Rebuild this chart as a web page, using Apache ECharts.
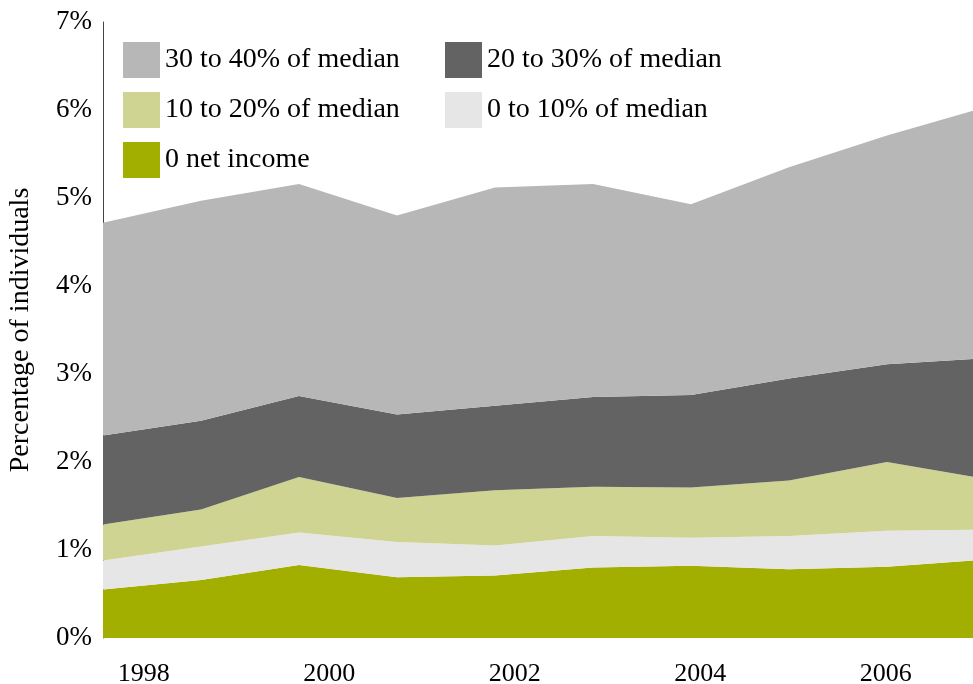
<!DOCTYPE html>
<html>
<head>
<meta charset="utf-8">
<script src="https://cdn.jsdelivr.net/npm/echarts@6/dist/echarts.min.js"></script>
<style>html,body{margin:0;padding:0;background:#fff}#c{width:973px;height:684px}</style>
</head>
<body>
<div id="c"></div>
<script>
// data points, positioned in year units of the labelled axis
const pointYears = ['1997.56', '1998.61', '1999.67', '2000.73', '2001.78', '2002.84', '2003.90', '2004.95', '2006.01', '2007.07'];
const yearTicks = [1998, 2000, 2002, 2004, 2006];
const yTicks = [0, 1, 2, 3, 4, 5, 6, 7];
// band values (% of individuals), bottom to top
const netZero   = [0.55, 0.66, 0.83, 0.69, 0.71, 0.80, 0.82, 0.78, 0.81, 0.89];
const to10      = [0.33, 0.38, 0.37, 0.40, 0.34, 0.36, 0.32, 0.38, 0.41, 0.34];
const to20      = [0.41, 0.42, 0.63, 0.50, 0.63, 0.56, 0.57, 0.63, 0.78, 0.58];
const to30      = [1.01, 1.01, 0.92, 0.95, 0.96, 1.02, 1.05, 1.16, 1.11, 1.37];
const to40      = [2.42, 2.50, 2.41, 2.26, 2.48, 2.42, 2.17, 2.40, 2.60, 2.85];
const seriesNames = ['0 net income', '0 to 10% of median', '10 to 20% of median', '20 to 30% of median', '30 to 40% of median'];
const seriesVals = [netZero, to10, to20, to30, to40];
const colors = ['#a2ae00', '#e6e6e6', '#cfd493', '#636363', '#b7b7b7'];

const FONT = "'Liberation Serif', 'Times New Roman', serif";
const chart = echarts.init(document.getElementById('c'), null, {renderer: 'canvas'});
const legendText = {fontFamily: FONT, fontSize: 28, color: '#000'};
chart.setOption({
  animation: false,
  textStyle: {fontFamily: FONT},
  grid: {left: 103, right: -12, top: 22, bottom: 46, containLabel: false, outerBoundsMode: 'none'},
  legend: [
    {data: ['30 to 40% of median', '10 to 20% of median', '0 net income'], orient: 'vertical',
     left: 118, top: 37, itemWidth: 37, itemHeight: 36, itemGap: 14, icon: 'rect',
     textStyle: legendText, selectedMode: false},
    {data: ['20 to 30% of median', '0 to 10% of median'], orient: 'vertical',
     left: 440, top: 37, itemWidth: 37, itemHeight: 36, itemGap: 14, icon: 'rect',
     textStyle: legendText, selectedMode: false}
  ],
  xAxis: [
    {type: 'category', data: pointYears, boundaryGap: false,
     axisLine: {show: false}, axisTick: {show: false}, splitLine: {show: false}, axisLabel: {show: false}},
    {type: 'value', position: 'bottom',
     min: Number(pointYears[0]), max: Number(pointYears[pointYears.length - 1]),
     axisLine: {show: false}, axisTick: {show: false}, splitLine: {show: false},
     axisLabel: {customValues: yearTicks, fontFamily: FONT, fontSize: 26, color: '#000', margin: 23,
                 formatter: v => String(v)}}
  ],
  yAxis: {
    type: 'value', min: yTicks[0], max: yTicks[yTicks.length - 1], interval: 1,
    name: 'Percentage of individuals', nameLocation: 'middle', nameRotate: 90, nameGap: 68,
    nameTextStyle: {fontFamily: FONT, fontSize: 28, color: '#000'},
    axisLine: {show: true, lineStyle: {color: '#444', width: 1}},
    axisTick: {show: false}, splitLine: {show: false},
    axisLabel: {formatter: '{value}%', fontFamily: FONT, fontSize: 27, color: '#000', margin: 11}
  },
  series: seriesNames.map((n, i) => ({
    name: n, type: 'line', stack: 'total', symbol: 'none', xAxisIndex: 0,
    color: colors[i],
    lineStyle: {width: 0, color: colors[i]},
    itemStyle: {color: colors[i]},
    areaStyle: {color: colors[i], opacity: 1},
    data: seriesVals[i]
  }))
});
</script>
</body>
</html>
